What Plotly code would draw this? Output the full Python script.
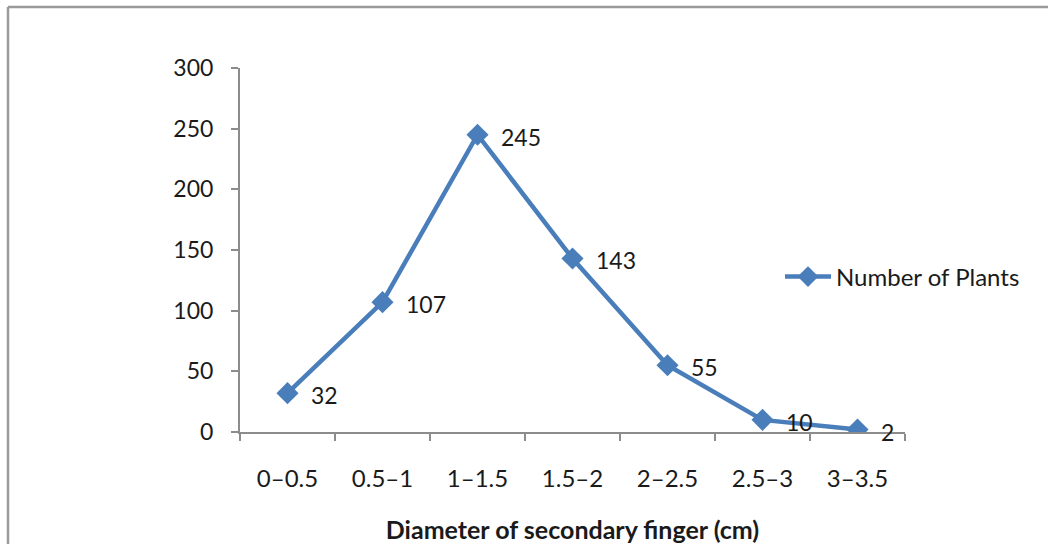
import plotly.graph_objects as go

# Diameter classes and plant counts
categories = ["0\u20130.5", "0.5\u20131", "1\u20131.5", "1.5\u20132", "2\u20132.5", "2.5\u20133", "3\u20133.5"]
plants = [32, 107, 245, 143, 55, 10, 2]
y_ticks = [0, 50, 100, 150, 200, 250, 300]

W, H = 1048, 544
L, R, T, B = 240, 905, 68, 432  # plot area in pixels
FONT = "Lato, 'Open Sans', sans-serif"
BLUE = "#4a7ebb"
AXIS = "#8c8c8c"
TXT = "#1a1a1a"

fig = go.Figure()
fig.add_trace(go.Scatter(
    x=categories, y=plants, mode="lines+markers",
    name="Number of Plants",
    line=dict(color=BLUE, width=4.5),
    marker=dict(symbol="diamond", size=17, color=BLUE),
))

# value labels to the right of each point
for c, v in zip(categories, plants):
    fig.add_annotation(x=c, y=v, text=str(v), showarrow=False,
                       xanchor="left", yanchor="middle", xshift=21, yshift=-2,
                       font=dict(family=FONT, size=23, color=TXT))

pw, ph = R - L, B - T
def px_x(p):
    return (p - L) / pw
def px_y(p):
    return (B - p) / ph

# outer frame (top and left edges visible)
fig.add_shape(type="line", xref="paper", yref="paper",
              x0=px_x(8), x1=px_x(W + 10), y0=px_y(7), y1=px_y(7),
              line=dict(color="#9a9a9a", width=2.5))
fig.add_shape(type="line", xref="paper", yref="paper",
              x0=px_x(8), x1=px_x(8), y0=px_y(7), y1=px_y(H + 10),
              line=dict(color="#9a9a9a", width=2.5))

fig.update_layout(
    width=W, height=H,
    margin=dict(l=L, r=W - R, t=T, b=H - B, autoexpand=False),
    paper_bgcolor="white", plot_bgcolor="white",
    font=dict(family=FONT, size=23, color=TXT),
    showlegend=True,
    legend=dict(x=px_x(780), y=px_y(277), xanchor="left", yanchor="middle",
                font=dict(family=FONT, size=24, color=TXT),
                bgcolor="rgba(0,0,0,0)", itemwidth=46),
    xaxis=dict(
        type="category", categoryorder="array", categoryarray=categories,
        range=[-0.5, len(categories) - 0.5],
        showline=True, linecolor=AXIS, linewidth=2,
        ticks="outside", tickson="boundaries", ticklen=7, tickcolor=AXIS, tickwidth=2,
        showgrid=False, zeroline=False,
        ticklabelstandoff=24,
        tickfont=dict(family=FONT, size=24, color=TXT),
        title=dict(text="<b>Diameter of secondary finger (cm)</b>", standoff=32,
                   font=dict(family=FONT, size=25, color=TXT)),
    ),
    yaxis=dict(
        range=[0, 300], tickvals=y_ticks,
        showline=True, linecolor=AXIS, linewidth=2,
        ticks="outside", ticklen=7, tickcolor=AXIS, tickwidth=2,
        showgrid=False, zeroline=False,
        ticklabelstandoff=13,
        tickfont=dict(family=FONT, size=23, color=TXT),
    ),
)

fig.write_html("out.html")
